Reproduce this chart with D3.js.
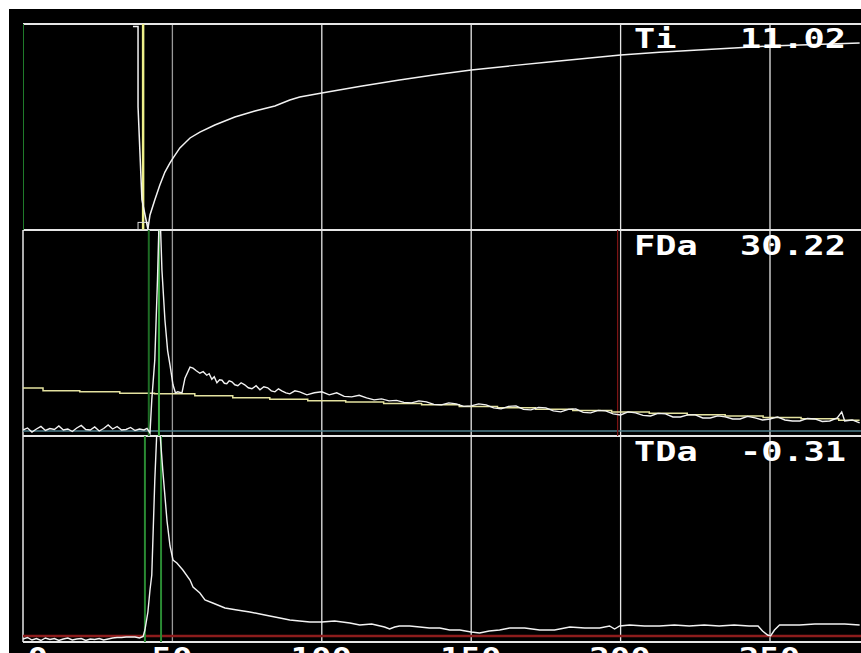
<!DOCTYPE html>
<html>
<head>
<meta charset="utf-8">
<script src="https://cdn.jsdelivr.net/npm/d3@7"></script>
<style>
  html, body { margin: 0; padding: 0; background: #fff; overflow: hidden; }
  text { font-family: "DejaVu Sans Mono", monospace; font-weight: bold; white-space: pre; }
</style>
</head>
<body>
<svg id="chart" width="861" height="653"></svg>
<script>
// ── data ─────────────────────────────────────────────
const tickValues = [0, 50, 100, 150, 200, 250];
const panelLabels = ['Ti   11.02', 'FDa  30.22', 'TDa  -0.31'];

// Ti trace (top panel)
const tiT = [36.8, 38.5, 38.5, 39.8, 41.8, 42.5, 44.1, 45.8, 47.5, 49.2, 50.2, 52.5, 55.9, 59.2, 64.2, 70.9,
  77.6, 84.3, 89.3, 92.6, 100, 113, 126, 138, 150, 163, 176, 188, 200, 213, 226, 238, 250, 265, 280];
const tiV = [12.05, 12.05, 7.3, 1.8, 0.06, 0.89, 1.78, 2.67, 3.43, 3.97, 4.26, 4.86, 5.45, 5.80, 6.22, 6.69,
  7.05, 7.34, 7.70, 7.88, 8.11, 8.52, 8.88, 9.20, 9.48, 9.72, 9.95, 10.15, 10.36, 10.52, 10.66, 10.78, 10.90, 10.99, 11.07];

// FDa trace (middle panel)
const fdaT = [0, 1.5, 3, 4.5, 6, 7.5, 9, 10.5, 12, 13.5, 15, 16.5, 18, 19.5, 21, 22.5, 24, 25.5, 27, 28.5,
  30, 31.5, 33, 34.5, 36, 37.5, 39, 40.5, 41.5, 42.5,
  43.1, 44.1, 45.0, 45.5, 46.0, 46.5, 47.5, 48.4, 49.2, 50.2, 51.0, 51.8, 53.2, 54.2, 55.9, 56.9, 58, 59.2,
  60.3, 61.5, 62.3, 63.2, 64, 64.9, 65.8, 66.6, 67.4, 68.2, 69, 69.9, 70.9, 71.9, 73, 74.2, 75.4, 76.6, 78,
  79.3, 80.6, 81.9, 83.1, 84.3, 85.5, 86.6, 88, 89.3, 91, 92.6,
  95, 97.5, 100, 102.5, 105, 107.5, 110, 112.5, 115, 117.5, 120, 122.5, 125, 127.5, 130, 132.5, 135, 137.5,
  140, 142.5, 145, 147.5, 150, 152.5, 155, 157.5, 160, 162.5, 165, 167.5, 170, 172.5, 175, 177.5, 180, 182.5,
  185, 187.5, 190, 192.5, 195, 197.5, 200, 202.5, 205, 207.5, 210, 212.5, 215, 217.5, 220, 222.5, 225, 227.5,
  230, 232.5, 235, 237.5, 240, 242.5, 245, 247.5, 250, 252.5, 255, 257.5, 260, 262.5, 265, 267.5, 270, 272.5,
  274, 275, 277.5, 280];
const fdaV = [0.2, 0.6, -0.2, 0.4, 0.9, 0.1, 0.5, 0.3, 1.0, 0.2, 0.4, -0.1, 0.6, 1.1, 0.3, 0.2, 0.8, 0.0, 0.5, 1.2,
  0.4, 0.9, 0.2, 0.3, 0.7, 0.1, 0.4, 0.2, 0.5, -0.4,
  6.2, 14.1, 30, 41, 41, 32, 22.1, 16, 13.1, 9.2, 7.6, 7.8, 7.6, 10.5, 12.7, 12.5, 12.0, 11.5,
  11.8, 11.1, 11.4, 10.3, 10.8, 9.6, 10.2, 10.1, 9.5, 9.4, 10.0, 9.8, 9.2, 9.0, 9.6, 9.2, 8.6, 8.4, 9.0,
  8.2, 8.8, 8.6, 8.0, 7.8, 8.4, 8.0, 7.6, 7.4, 8.0, 7.8,
  7.2, 7.6, 7.8, 7.2, 7.6, 6.9, 6.8, 7.1, 6.6, 6.2, 6.4, 6.0, 6.1, 5.7, 5.6, 6.0, 5.8, 5.3,
  5.2, 5.6, 5.4, 4.9, 5.0, 5.4, 5.2, 4.6, 4.4, 4.9, 5.0, 4.3, 4.2, 4.7, 4.6, 4.0, 3.8, 4.3,
  4.4, 3.7, 3.6, 4.1, 4.0, 3.4, 3.2, 3.8, 3.6, 3.1, 3.0, 3.5, 3.4, 2.8, 2.8, 3.2, 3.2, 2.6,
  2.6, 3.0, 2.8, 2.4, 2.4, 2.9, 2.6, 2.2, 2.4, 2.8, 2.2, 2.0, 2.0, 2.5, 2.4, 1.9, 2.0, 2.6,
  3.8, 2.0, 2.2, 1.6];

// FDa reference (yellow stepped line)
const refT = [0, 6.7, 19, 32.4, 44, 57.5, 70.2, 82.6, 95.3, 108, 120.7, 133.4, 146, 158.8, 171.5, 184, 197,
  209.6, 222.3, 235, 247.7, 260.4, 273, 280];
const refV = [8.56, 8.0, 7.8, 7.5, 7.4, 7.0, 6.6, 6.3, 6.0, 5.75, 5.45, 5.2, 4.9, 4.65, 4.35, 4.1, 3.8,
  3.55, 3.25, 3.0, 2.7, 2.45, 2.15, 2.15];

// TDa trace (bottom panel)
const tdaT = [0, 1.5, 3, 4.5, 6, 7.5, 9, 10.5, 12, 13.5, 15, 16.5, 18, 19.5, 21, 22.5, 24, 25.5, 27, 28.5,
  30, 31.5, 33, 34.5, 36, 37.5, 39, 40.2, 40.8, 41.8, 42.5, 43.1, 44.1, 44.8, 45.8, 46.8, 48.2, 49.2, 50.2,
  51.5, 53.5, 55.9, 56.9, 59.2, 60.9, 63.5, 67.6, 71.6, 75.9, 79.3, 82.6, 86, 89.3, 92.6, 96, 100, 104.3,
  109.4, 112.7, 116.7, 121, 122.7, 124.4, 126, 129.4, 132.8, 136, 139.5, 142.8, 146.2, 150, 152.8, 156,
  159.5, 162.9, 167.9, 172.9, 177.9, 183, 188, 193, 196.3, 198, 199.7, 203, 208, 213, 218, 223, 228, 233,
  238, 243, 246, 247.5, 249.2, 250.2, 251.5, 253.2, 259.9, 265, 270, 275, 280];
const tdaV = [-0.6, -0.3, -0.8, -0.5, -0.9, -0.4, -0.7, -0.5, -0.9, -0.6, -0.4, -0.8, -0.6, -0.5, -0.9, -0.6,
  -0.7, -0.5, -0.8, -0.6, -0.4, -0.3, -0.3, -0.2, -0.2, -0.2, -0.4, -0.1, 1.2, 4.8, 9.2, 12.2, 31, 41, 41,
  33, 23, 18, 15.2, 14.6, 13.2, 11.2, 9.8, 8.6, 7.2, 6.6, 5.6, 5.2, 4.8, 4.4, 4.0, 3.6, 3.2, 3.0, 2.8, 2.8,
  3.0, 2.6, 2.2, 2.4, 1.8, 1.4, 1.8, 2.0, 2.0, 1.8, 1.6, 1.6, 1.2, 1.2, 0.8, 0.6, 1.0, 1.2, 1.6, 1.6, 1.2,
  1.2, 1.8, 1.6, 1.6, 2.0, 1.4, 2.0, 2.2, 2.0, 2.0, 2.2, 2.0, 2.2, 2.0, 2.2, 2.0, 2.0, 1.0, 0.2, 0.0, 1.2,
  2.2, 2.2, 2.4, 2.4, 2.4, 2.2];

// cursor / marker times
const tiCursorT = [0];           // green, top panel
const tiYellowT = [40.2];        // yellow, top panel
const fdaCursorT = [42.1, 45.5]; // green, middle panel
const fdaRedT = [199];           // red, middle panel
const tdaCursorT = [40.8, 46.2]; // green, bottom panel

// ── layout ───────────────────────────────────────────
const W = 861, H = 653;
const left = 23;
const rowY = [24, 230, 436, 642];

const svg = d3.select('#chart');
svg.append('rect').attr('width', W).attr('height', H).attr('fill', '#fff');
svg.append('rect').attr('x', 9).attr('y', 9).attr('width', W - 9).attr('height', H - 9).attr('fill', '#000');

const x = d3.scaleLinear().domain([0, 250]).range([left, 770]);
const yTi = d3.scaleLinear().domain([0, 12.2]).range([rowY[1], rowY[0]]);
const yFDa = d3.scaleLinear().domain([0, 40]).range([431, rowY[1]]);
const yTDa = d3.scaleLinear().domain([0, 40]).range([636, rowY[2]]);

// clip each panel
const defs = svg.append('defs');
[0, 1, 2].forEach(i => {
  defs.append('clipPath').attr('id', 'clip' + i)
    .append('rect').attr('x', left).attr('y', rowY[i]).attr('width', W - left).attr('height', rowY[i + 1] - rowY[i]);
});
const panel = i => svg.append('g').attr('clip-path', `url(#clip${i})`);

// grid verticals
svg.selectAll('.vgrid').data(tickValues.slice(1)).join('line')
  .attr('class', 'vgrid')
  .attr('x1', d => x(d)).attr('x2', d => x(d))
  .attr('y1', rowY[0]).attr('y2', rowY[3])
  .attr('stroke', d => d === 50 ? '#9a9a9a' : '#e6e6e6')
  .attr('stroke-width', 1.3);

// left frame
svg.append('line').attr('x1', left).attr('x2', left).attr('y1', rowY[1]).attr('y2', rowY[3])
  .attr('stroke', '#e6e6e6').attr('stroke-width', 1.5);

// horizontal rules
svg.selectAll('.hrule').data(rowY).join('line')
  .attr('class', 'hrule')
  .attr('x1', left).attr('x2', W)
  .attr('y1', d => d).attr('y2', d => d)
  .attr('stroke', '#e6e6e6').attr('stroke-width', 1.8);

// ── top panel: Ti ────────────────────────────────────
const gTi = panel(0);
gTi.selectAll('.cur').data(tiCursorT).join('line')
  .attr('x1', d => x(d)).attr('x2', d => x(d)).attr('y1', rowY[0]).attr('y2', rowY[1])
  .attr('stroke', '#1f7a2a').attr('stroke-width', 2);
gTi.selectAll('.yel').data(tiYellowT).join('line')
  .attr('x1', d => x(d)).attr('x2', d => x(d)).attr('y1', rowY[0]).attr('y2', rowY[1])
  .attr('stroke', '#eef08a').attr('stroke-width', 2.5);
gTi.append('rect')
  .attr('x', x(38.5)).attr('y', yTi(0.45))
  .attr('width', x(41.8) - x(38.5)).attr('height', yTi(0) - yTi(0.45))
  .attr('fill', 'none').attr('stroke', '#ddd').attr('stroke-width', 1);
gTi.append('path')
  .datum(d3.zip(tiT, tiV))
  .attr('fill', 'none').attr('stroke', '#f2f2f2').attr('stroke-width', 1.5)
  .attr('d', d3.line().x(d => x(d[0])).y(d => yTi(d[1])));

// ── middle panel: FDa ────────────────────────────────
const gF = panel(1);
gF.append('line')
  .attr('x1', left).attr('x2', W).attr('y1', yFDa(0)).attr('y2', yFDa(0))
  .attr('stroke', '#4f7f8c').attr('stroke-width', 1.3);
gF.selectAll('.red').data(fdaRedT).join('line')
  .attr('x1', d => x(d)).attr('x2', d => x(d)).attr('y1', rowY[1]).attr('y2', rowY[2])
  .attr('stroke', '#7a1414').attr('stroke-width', 1.3);
gF.append('path')
  .datum(d3.zip(refT, refV))
  .attr('fill', 'none').attr('stroke', '#e4e2a0').attr('stroke-width', 1.5)
  .attr('d', d3.line().curve(d3.curveStepAfter).x(d => x(d[0])).y(d => yFDa(d[1])));
gF.selectAll('.cur').data(fdaCursorT).join('line')
  .attr('x1', d => x(d)).attr('x2', d => x(d)).attr('y1', rowY[1]).attr('y2', rowY[2])
  .attr('stroke', (d, i) => i === 0 ? '#1d6b24' : '#3fae46').attr('stroke-width', 2);
gF.append('path')
  .datum(d3.zip(fdaT, fdaV))
  .attr('fill', 'none').attr('stroke', '#f2f2f2').attr('stroke-width', 1.4)
  .attr('d', d3.line().x(d => x(d[0])).y(d => yFDa(d[1])));

// ── bottom panel: TDa ────────────────────────────────
const gT = panel(2);
gT.append('line')
  .attr('x1', left).attr('x2', W).attr('y1', yTDa(0)).attr('y2', yTDa(0))
  .attr('stroke', '#8c1c1c').attr('stroke-width', 2.5);
gT.selectAll('.cur').data(tdaCursorT).join('line')
  .attr('x1', d => x(d)).attr('x2', d => x(d)).attr('y1', rowY[2]).attr('y2', rowY[3])
  .attr('stroke', '#2a8a33').attr('stroke-width', 2);
gT.append('path')
  .datum(d3.zip(tdaT, tdaV))
  .attr('fill', 'none').attr('stroke', '#f2f2f2').attr('stroke-width', 1.4)
  .attr('d', d3.line().x(d => x(d[0])).y(d => yTDa(d[1])));

// ── panel readouts ───────────────────────────────────
const labelBase = [48, 255, 461];
svg.selectAll('.readout').data(panelLabels).join('text')
  .attr('class', 'readout')
  .attr('x', 634).attr('y', (d, i) => labelBase[i])
  .attr('fill', '#fff').attr('font-size', 27)
  .attr('textLength', 212).attr('lengthAdjust', 'spacingAndGlyphs')
  .text(d => d);

// ── x axis (labels cut by window edge) ───────────────
const gx = svg.append('g').attr('transform', `translate(0,${rowY[3]})`)
  .call(d3.axisBottom(x).tickValues(tickValues).tickSize(0));
gx.select('.domain').remove();
gx.selectAll('.tick text')
  .attr('y', 25).attr('dy', null)
  .attr('fill', '#fff')
  .style('font-size', '27px')
  .style('font-family', '"DejaVu Sans Mono", monospace')
  .style('font-weight', 'bold')
  .attr('textLength', d => String(d).length * 20.5)
  .attr('lengthAdjust', 'spacingAndGlyphs')
  .attr('text-anchor', d => d === 0 ? 'start' : 'middle')
  .attr('x', d => d === 0 ? 4 : -1);
</script>
</body>
</html>
